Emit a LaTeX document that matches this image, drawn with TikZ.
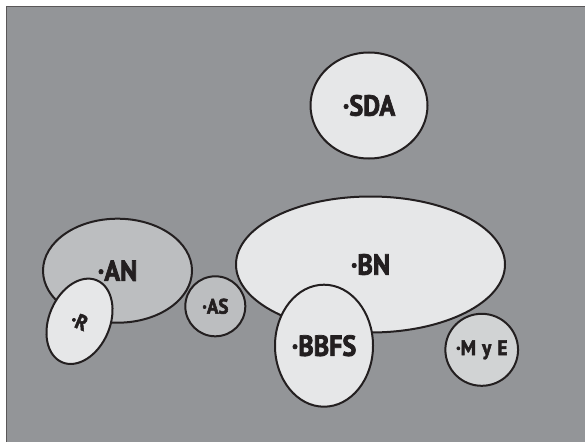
\documentclass[tikz,border=0pt]{standalone}
\usepackage{fontspec}
\newfontfamily\lblfont[FakeStretch=0.9, FakeBold=2.5]{PT Sans Bold}
\usetikzlibrary{shapes.geometric}
\definecolor{bg}{HTML}{939598}
\definecolor{light}{HTML}{E6E7E8}
\definecolor{mid}{HTML}{BCBEC0}
\definecolor{pale}{HTML}{D1D3D4}
\definecolor{ink}{HTML}{231F20}
\begin{document}
\begin{tikzpicture}[x=1pt,y=-1pt,
  blob/.style={ellipse, draw=ink, line width=2pt, inner sep=0pt, text=ink},
  big/.style={font=\lblfont\fontsize{29}{29}\selectfont},
  small/.style={font=\lblfont\fontsize{21}{21}\selectfont},
]
\useasboundingbox (0,0) rectangle (585,441);
\fill[white] (0,0) rectangle (585,441);
\draw[fill=bg, draw=ink!75, line width=1pt] (6.7,7) rectangle (600,460);
\node[blob, big, fill=light, minimum width=117pt, minimum height=106pt] (sda) at (369,105.5) {·SDA};
\node[blob, big, fill=light, minimum width=269pt, minimum height=136pt] (bn) at (370.5,264.5) {·BN};
\node[blob, big, fill=mid, minimum width=149pt, minimum height=104pt] (an) at (117.5,270.7) {·AN};
\node[blob, small, fill=light, minimum width=61pt, minimum height=89pt, rotate=-23] (r) at (79.5,321.3) {·R};
\node[blob, small, fill=mid, minimum width=60pt, minimum height=60pt] (as) at (215.3,306.3) {·AS};
\node[blob, big, fill=light, minimum width=98pt, minimum height=122pt] (bbfs) at (324,345.7) {·BBFS};
\node[blob, small, fill=pale, minimum width=71pt, minimum height=72pt] (mye) at (481.7,349.8) {·M\hspace{0.3em}y\hspace{0.3em}E};
\end{tikzpicture}
\end{document}
